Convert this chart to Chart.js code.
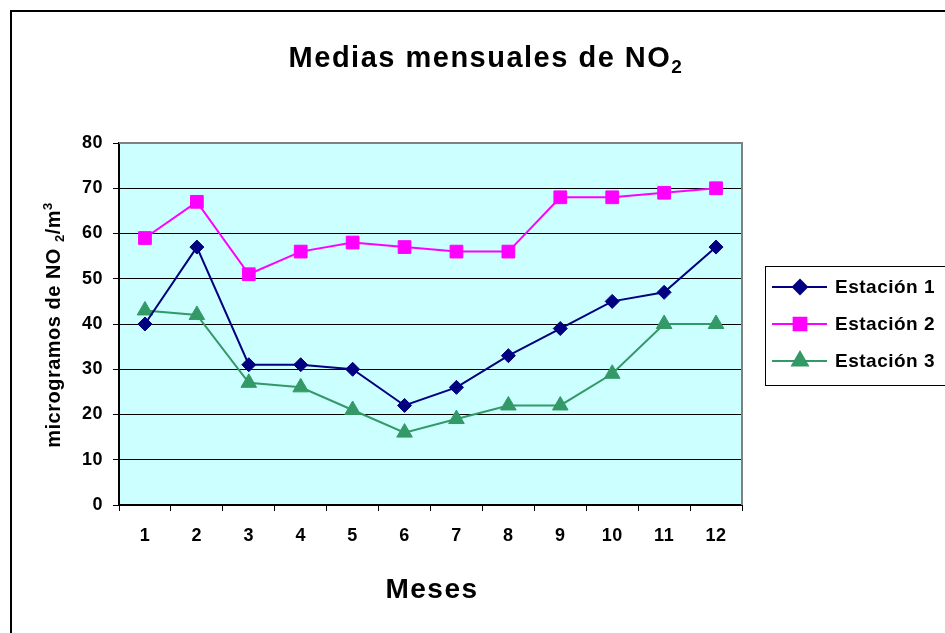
<!DOCTYPE html>
<html>
<head>
<meta charset="utf-8">
<script src="https://cdn.jsdelivr.net/npm/chart.js@4"></script>
<style>
  html, body { margin: 0; padding: 0; background: #fff; overflow: hidden; }
  #wrap { width: 945px; height: 633px; }
</style>
</head>
<body>
<div id="wrap"><canvas id="c" width="945" height="633"></canvas></div>
<script>
// datos
const meses = ['1', '2', '3', '4', '5', '6', '7', '8', '9', '10', '11', '12'];
const estacion1 = [40, 57, 31, 31, 30, 22, 26, 33, 39, 45, 47, 57];
const estacion2 = [59, 67, 51, 56, 58, 57, 56, 56, 68, 68, 69, 70];
const estacion3 = [43, 42, 27, 26, 21, 16, 19, 22, 22, 29, 40, 40];
const yTicks = [0, 10, 20, 30, 40, 50, 60, 70, 80];

const FONT = '"Liberation Sans", Arial, sans-serif';

// texto con sub/superíndices: partes [texto, tipo]
function drawRich(ctx, parts, size, x, y, align) {
    const widths = parts.map(p => {
        ctx.font = 'bold ' + (p[1] ? Math.round(size * 0.65) : size) + 'px ' + FONT;
        return ctx.measureText(p[0]).width;
    });
    const total = widths.reduce((s, w) => s + w, 0);
    let cx = align === 'center' ? x - total / 2 : x;
    parts.forEach((p, i) => {
        ctx.font = 'bold ' + (p[1] ? Math.round(size * 0.65) : size) + 'px ' + FONT;
        let dy = 0;
        if (p[1] === 'sub') dy = size * 0.22;
        if (p[1] === 'sup') dy = -size * 0.38;
        ctx.fillText(p[0], cx, y + dy);
        cx += widths[i];
    });
}

const decor = {
    id: 'decor',
    beforeDraw(chart) {
        const ctx = chart.ctx, a = chart.chartArea;
        ctx.save();
        ctx.fillStyle = '#fff';
        ctx.fillRect(0, 0, chart.width, chart.height);
        ctx.strokeStyle = '#000';
        ctx.lineWidth = 2;
        ctx.strokeRect(11, 11, 1000, 700);
        ctx.fillStyle = '#ccffff';
        ctx.fillRect(a.left, a.top, a.right - a.left, a.bottom - a.top);
        ctx.restore();
        ctx.letterSpacing = '0.5px';
    },
    beforeDatasetsDraw(chart) {
        const ctx = chart.ctx, a = chart.chartArea;
        ctx.save();
        ctx.strokeStyle = '#808080';
        ctx.lineWidth = 2;
        ctx.beginPath();
        ctx.moveTo(a.left, a.top);
        ctx.lineTo(a.right, a.top);
        ctx.lineTo(a.right, a.bottom);
        ctx.stroke();
        ctx.restore();
    },
    afterDraw(chart) {
        const ctx = chart.ctx;
        ctx.save();
        ctx.fillStyle = '#000';
        ctx.textBaseline = 'alphabetic';
        ctx.letterSpacing = '1.5px';
        drawRich(ctx, [['Medias mensuales de NO'], ['2', 'sub']], 29, 486, 67, 'center');
        drawRich(ctx, [['Meses']], 28, 432, 598, 'center');

        // título eje y
        ctx.save();
        ctx.translate(60, 325);
        ctx.rotate(-Math.PI / 2);
        ctx.letterSpacing = '0.5px';
        drawRich(ctx, [['microgramos de NO '], ['2', 'sub'], ['/m'], ['3', 'sup']], 20, 0, 0, 'center');
        ctx.restore();

        // leyenda
        ctx.strokeStyle = '#000';
        ctx.lineWidth = 1;
        ctx.strokeRect(765.5, 266.5, 300, 119);
        const rows = [287, 324, 361];
        chart.data.datasets.forEach((ds, i) => {
            const y = rows[i];
            ctx.strokeStyle = ds.borderColor;
            ctx.lineWidth = 2;
            ctx.beginPath();
            ctx.moveTo(772, y);
            ctx.lineTo(827, y);
            ctx.stroke();
            ctx.fillStyle = ds.backgroundColor;
            Chart.helpers.drawPoint(ctx, { pointStyle: ds.pointStyle, radius: ds.pointRadius, borderWidth: 1 }, 800, y);
            ctx.fillStyle = '#000';
            ctx.font = 'bold 19px ' + FONT;
            ctx.letterSpacing = '0.5px';
            ctx.textBaseline = 'middle';
            ctx.fillText(ds.label, 835, y + 1);
        });
        ctx.restore();
    }
};

const serie = (label, data, color, style, r) => ({
    label, data,
    borderColor: color, backgroundColor: color,
    borderWidth: 2,
    pointStyle: style, pointRadius: r, pointHoverRadius: r,
    pointBorderWidth: 1, pointBorderColor: color, pointBackgroundColor: color,
    tension: 0,
});

new Chart(document.getElementById('c'), {
    type: 'line',
    data: {
        labels: meses,
        datasets: [
            serie('Estación 1', estacion1, '#000080', 'rectRot', 7),
            serie('Estación 2', estacion2, '#ff00ff', 'rect', 9),
            serie('Estación 3', estacion3, '#339966', 'triangle', 9),
        ]
    },
    options: {
        responsive: false, animation: false,
        layout: { padding: { top: 143, right: 203, left: 0, bottom: 0 } },
        plugins: { legend: { display: false }, title: { display: false }, tooltip: { enabled: false } },
        scales: {
            x: {
                offset: true,
                grid: { offset: true, drawOnChartArea: false, drawTicks: true, tickLength: 6, color: '#000', lineWidth: 1 },
                border: { color: '#000', width: 2 },
                ticks: { color: '#000', font: { family: FONT, weight: 'bold', size: 18 }, padding: 14, maxRotation: 0 },
                afterFit: s => { s.height = 128; },
            },
            y: {
                min: 0, max: 80,
                afterBuildTicks: s => { s.ticks = yTicks.map(v => ({ value: v })); },
                grid: { color: '#000', lineWidth: 1, tickLength: 6 },
                border: { color: '#000', width: 2 },
                ticks: { color: '#000', font: { family: FONT, weight: 'bold', size: 18 }, padding: 10 },
                afterFit: s => { s.width = 119; },
            }
        }
    },
    plugins: [decor]
});
</script>
</body>
</html>
